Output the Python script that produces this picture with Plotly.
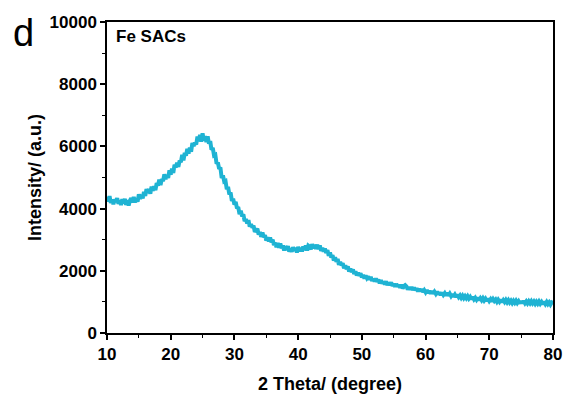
import numpy as np
import plotly.graph_objects as go

# XRD pattern of Fe SACs: 2-theta from 10 to 80 degrees, 0.2 degree step
theta_start = 10.0
theta_step = 0.2

intensity = [
    4380, 4230, 4400, 4180, 4290,
    4140, 4294, 4218, 4332, 4156,
    4260, 4116, 4302, 4168, 4314,
    4120, 4270, 4100, 4260, 4330,
    4200, 4370, 4200, 4330, 4220,
    4460, 4316, 4442, 4328, 4534,
    4410, 4628, 4506, 4624, 4482,
    4710, 4572, 4714, 4596, 4818,
    4740, 4930, 4760, 4950, 4880,
    5100, 4950, 5080, 4990, 5230,
    5090, 5284, 5148, 5412, 5326,
    5470, 5340, 5540, 5490, 5730,
    5550, 5790, 5700, 5920, 5770,
    5960, 5830, 6110, 6010, 6120,
    6060, 6320, 6170, 6370, 6155,
    6420, 6190, 6330, 6140, 6320,
    6090, 6170, 5890, 5950, 5710,
    5730, 5440, 5490, 5280, 5320,
    4980, 5070, 4870, 4890, 4620,
    4700, 4460, 4520, 4250, 4320,
    4130, 4220, 4010, 4050, 3820,
    3930, 3756, 3812, 3598, 3664,
    3520, 3630, 3420, 3500, 3390,
    3450, 3254, 3328, 3352, 3166,
    3250, 3092, 3234, 3076, 3148,
    2970, 3072, 2944, 3066, 2918,
    3000, 2826, 2902, 2758, 2894,
    2740, 2874, 2728, 2812, 2656,
    2790, 2662, 2794, 2616, 2718,
    2610, 2760, 2650, 2740, 2590,
    2770, 2628, 2736, 2624, 2782,
    2670, 2810, 2650, 2810, 2780,
    2690, 2858, 2726, 2834, 2702,
    2840, 2694, 2818, 2642, 2736,
    2620, 2718, 2576, 2664, 2482,
    2590, 2424, 2498, 2332, 2436,
    2290, 2378, 2196, 2284, 2182,
    2240, 2082, 2174, 2056, 2138,
    1980, 2068, 1956, 2044, 1902,
    1980, 1852, 1934, 1846, 1918,
    1790, 1866, 1752, 1848, 1764,
    1820, 1716, 1802, 1678, 1744,
    1660, 1749, 1648, 1717, 1596,
    1695, 1594, 1653, 1562, 1661,
    1540, 1621, 1542, 1623, 1514,
    1585, 1486, 1577, 1488, 1549,
    1460, 1552, 1434, 1506, 1538,
    1500, 1402, 1474, 1396, 1478,
    1380, 1462, 1374, 1436, 1338,
    1420, 1342, 1414, 1316, 1378,
    1310, 1384, 1288, 1352, 1266,
    1350, 1264, 1328, 1262, 1336,
    1240, 1304, 1218, 1302, 1226,
    1280, 1204, 1288, 1202, 1266,
    1190, 1254, 1168, 1232, 1156,
    1230, 1154, 1208, 1132, 1196,
    1120, 1184, 1118, 1182, 1106,
    1160, 1084, 1158, 1082, 1136,
    1070, 1136, 1052, 1118, 1054,
    1120, 1046, 1102, 1028, 1104,
    1030, 1087, 1014, 1091, 1028,
    1075, 1002, 1069, 1006, 1073,
    990, 1057, 994, 1061, 988,
    1055, 982, 1039, 966, 1033,
    970, 1038, 966, 1024, 952,
    1025, 953, 1031, 959, 1017,
    950, 1018, 956, 1024, 952,
    1010, 938, 1006, 944, 1012,
    940, 998, 926, 1004, 932,
    1000, 928, 986, 914, 982,
    960,
]

two_theta = theta_start + theta_step * np.arange(len(intensity))

x_ticks = [10, 20, 30, 40, 50, 60, 70, 80]
y_ticks = [0, 2000, 4000, 6000, 8000, 10000]

LINE_COLOR = "#1fb3d3"
FONT = "Liberation Sans, Arial, sans-serif"

fig = go.Figure()
fig.add_trace(go.Scatter(
    x=two_theta, y=intensity, mode="lines",
    line=dict(color=LINE_COLOR, width=4),
    hoverinfo="skip", showlegend=False,
))

axis_common = dict(
    showline=True, linecolor="black", linewidth=1.5, mirror=True,
    ticks="outside", ticklen=5, tickwidth=1.5, tickcolor="black",
    showgrid=False, zeroline=False, automargin=False,
    tickfont=dict(family=FONT, size=17, color="black", weight="bold"),
    minor=dict(ticks="outside", ticklen=3, tickwidth=1.2, tickcolor="black", showgrid=False),
)

fig.update_xaxes(
    range=[10, 80], tickvals=x_ticks, ticktext=[str(v) for v in x_ticks],
    title=dict(text="2 Theta/ (degree)", standoff=14,
               font=dict(family=FONT, size=18, color="black", weight="bold")),
    **axis_common,
)
fig.layout.xaxis.minor.dtick = 5
fig.layout.xaxis.minor.tick0 = 10

fig.update_yaxes(
    range=[0, 10000], tickvals=y_ticks, ticktext=[str(v) for v in y_ticks],
    title=dict(text="Intensity/ (a.u.)", standoff=3,
               font=dict(family=FONT, size=18, color="black", weight="bold")),
    **axis_common,
)
fig.layout.yaxis.minor.dtick = 1000
fig.layout.yaxis.minor.tick0 = 0

fig.add_annotation(
    x=0.016, y=0.99, xref="paper", yref="paper", xanchor="left", yanchor="top",
    text="<b>Fe SACs</b>", showarrow=False,
    font=dict(family=FONT, size=17, color="black"),
)
fig.add_annotation(
    x=-0.215, y=0.965, xref="paper", yref="paper", xanchor="left", yanchor="middle",
    text="d", showarrow=False,
    font=dict(family=FONT, size=38, color="black"),
)

fig.update_layout(
    width=566, height=396,
    margin=dict(l=107, r=13, t=22, b=63),
    paper_bgcolor="white", plot_bgcolor="white",
    font=dict(family=FONT),
)

fig.write_html("out.html")
